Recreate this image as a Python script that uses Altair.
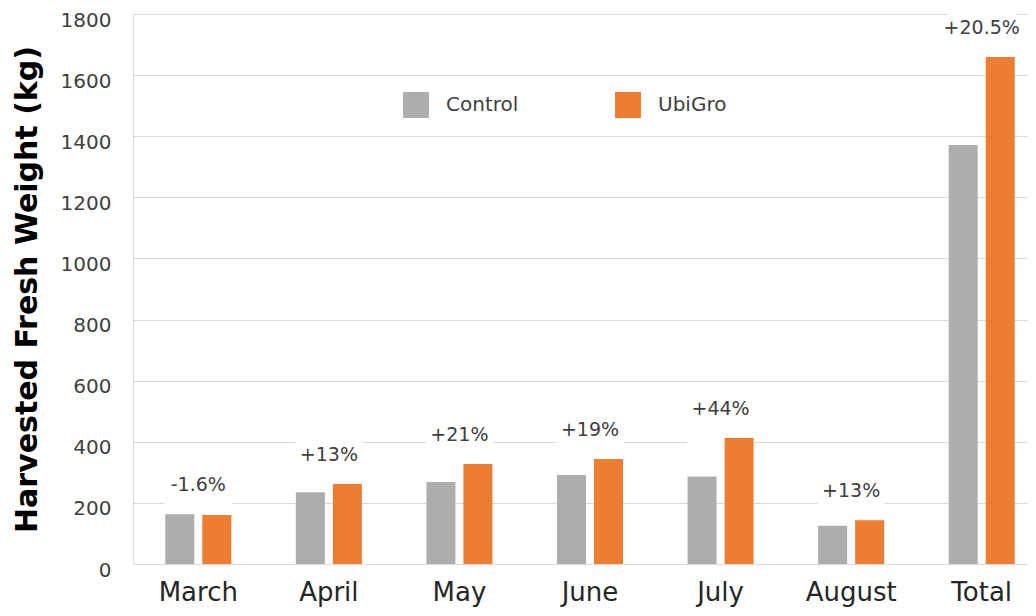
import altair as alt
import pandas as pd

months = ["March", "April", "May", "June", "July", "August", "Total"]
control = [163, 235, 268, 291, 286, 125, 1371]
ubigro = [160, 262, 327, 344, 412, 143, 1659]
pct_labels = ["-1.6%", "+13%", "+21%", "+19%", "+44%", "+13%", "+20.5%"]
series_names = ["Control", "UbiGro"]
series_colors = ["#ADADAD", "#ED7D31"]
y_ticks = [0, 200, 400, 600, 800, 1000, 1200, 1400, 1600, 1800]

FONT = "DejaVu Sans"

bars_df = pd.DataFrame(
    [{"month": m, "series": "Control", "value": c} for m, c in zip(months, control)]
    + [{"month": m, "series": "UbiGro", "value": u} for m, u in zip(months, ubigro)]
)
labels_df = pd.DataFrame(
    {"month": months, "value": [max(c, u) for c, u in zip(control, ubigro)], "label": pct_labels}
)

x_enc = alt.X(
    "month:N",
    sort=months,
    scale=alt.Scale(range=[0, 914], paddingInner=0.4943, paddingOuter=0.2472),
    axis=alt.Axis(
        title=None, labelAngle=0, ticks=False, domain=False, grid=False,
        labelFontSize=26, labelColor="#262626", labelPadding=15, labelFont=FONT,
    ),
)
y_enc = alt.Y(
    "value:Q",
    scale=alt.Scale(domain=[0, 1800], nice=False),
    axis=alt.Axis(
        values=y_ticks, format="d", title="Harvested Fresh Weight (kg)", ticks=False, domain=False,
        grid=True, gridColor="#D9D9D9", gridWidth=1.2,
        labelFontSize=20, labelColor="#404040", labelPadding=22, labelFont=FONT, labelOffset=6,
        titleFontSize=30, titleFontWeight="bold", titleColor="#000000", titleFont=FONT,
        titlePadding=18,
    ),
)

box_path = "M-1,-0.597L1,-0.597L1,1.134L-1,1.134Z"
boxes = alt.Chart(labels_df).mark_point(
    shape=box_path, size=4489, filled=True, fill="white", opacity=1, strokeWidth=0, yOffset=-29
).encode(x=x_enc, y=y_enc)

bars = alt.Chart(bars_df).mark_bar().encode(
    x=x_enc,
    xOffset=alt.XOffset("series:N", sort=series_names,
                        scale=alt.Scale(paddingInner=0.216, paddingOuter=0)),
    y=y_enc,
    color=alt.Color(
        "series:N",
        scale=alt.Scale(domain=series_names, range=series_colors),
        legend=alt.Legend(
            orient="none", legendX=270, legendY=78, direction="horizontal", title=None,
            symbolType="square", symbolSize=676, symbolStrokeWidth=0, symbolOpacity=1,
            labelFontSize=20, labelOffset=17, columnPadding=96, gridAlign="all",
            labelColor="#404040", labelFont=FONT,
        ),
    ),
)

text = alt.Chart(labels_df).mark_text(
    dy=-29, baseline="middle", fontSize=19, color="#404040", font=FONT
).encode(x=x_enc, y=y_enc, text="label:N")

chart = alt.layer(boxes, bars, text).properties(
    width=895, height=550,
    padding={"left": 125, "top": 6, "right": 0, "bottom": 44},
    autosize=alt.AutoSizeParams(type="none"),
).configure_view(stroke=None).configure(font=FONT)

chart.save("out.html", embed_options={"renderer": "svg", "actions": False})
